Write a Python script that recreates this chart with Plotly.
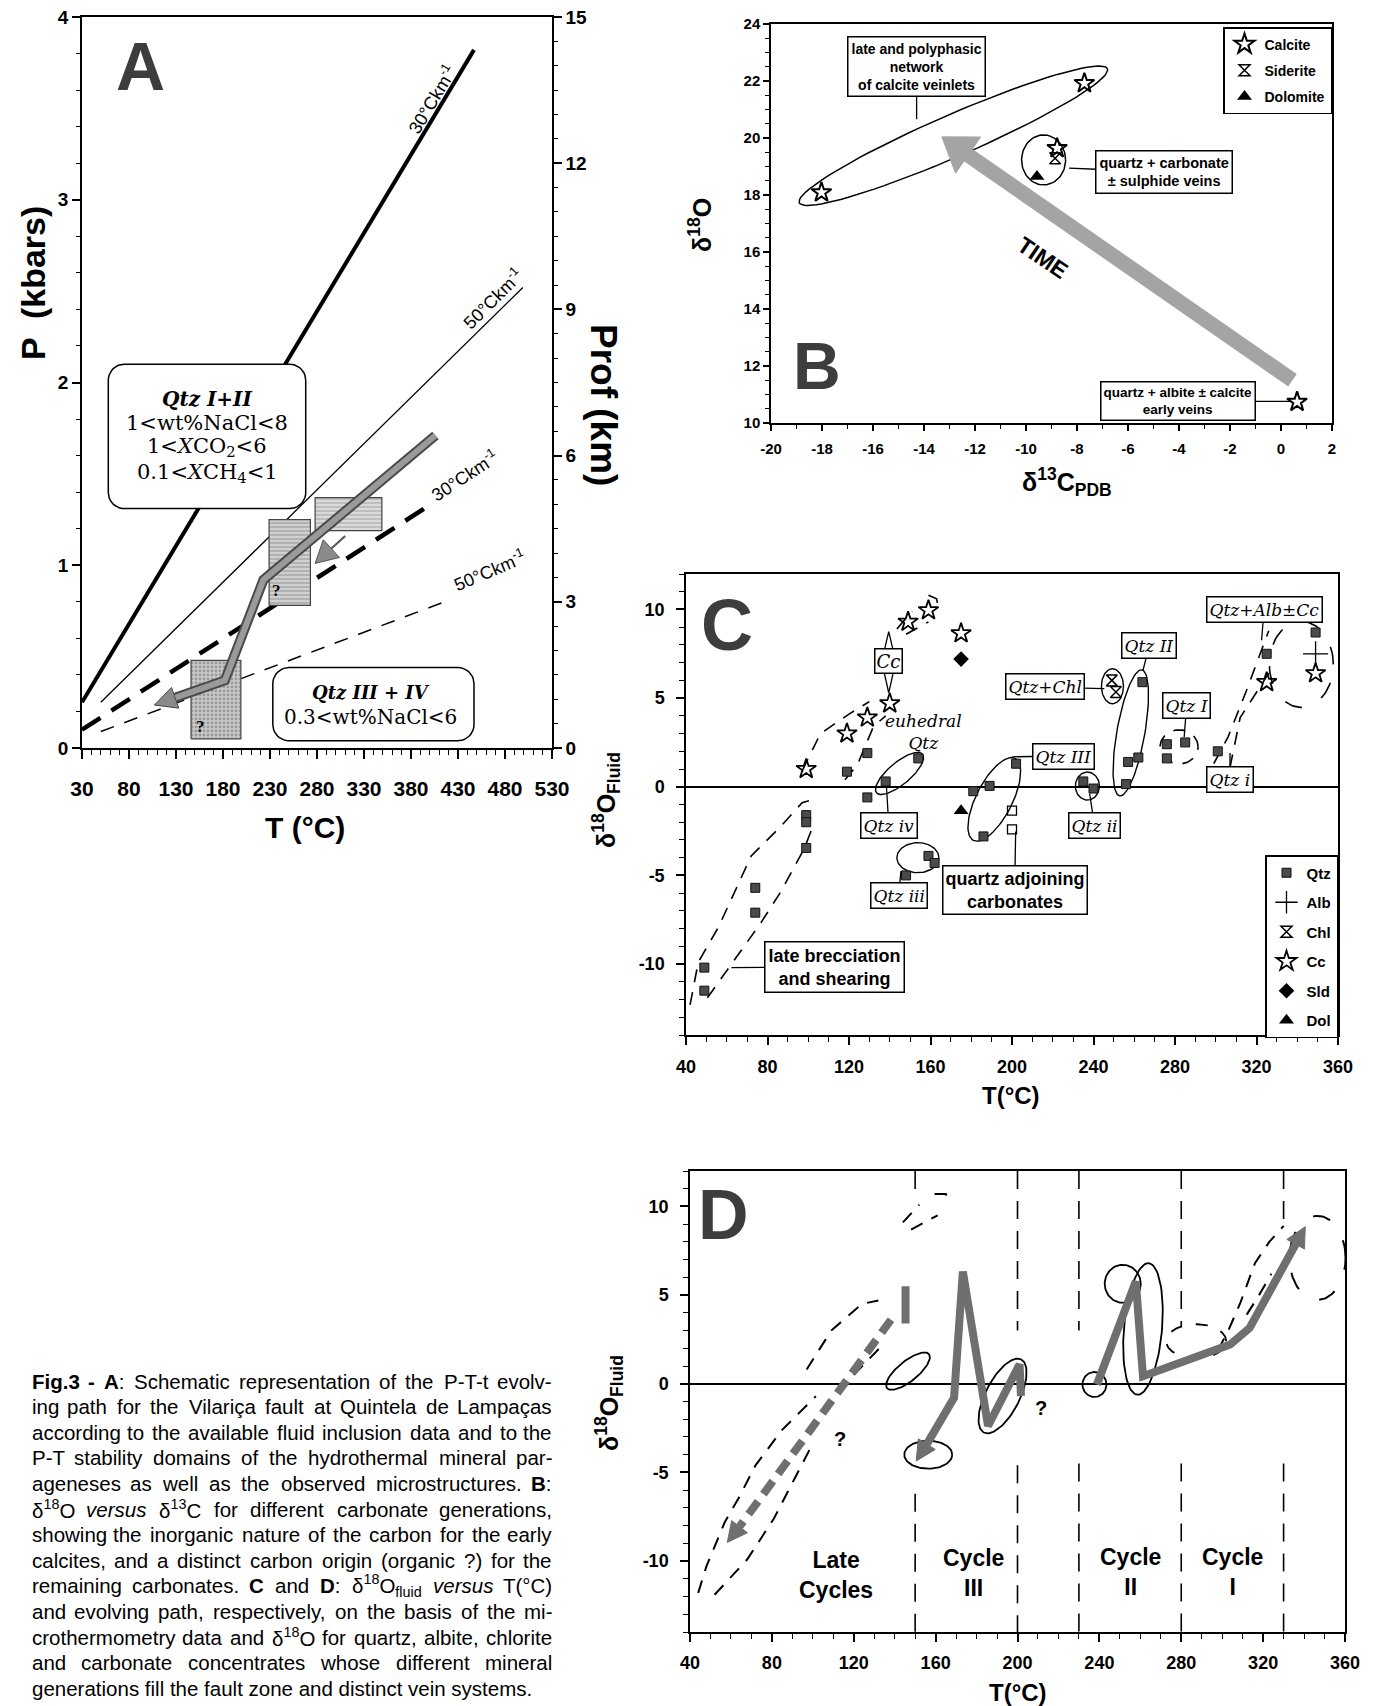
import math
import re
import plotly.graph_objects as go

W, H = 1377, 1706          # browser window
OFF = 8                    # page body margin: the figure starts at (8, 8)
FW, FH = W - OFF, H - OFF  # figure size
SANS = "Liberation Sans"
SERIF = "Liberation Serif"
WSERIF = "DejaVu Serif"

# ======================= DATA =======================
# ---- Panel A : P-T-t path ----
A_T_range = [30, 530]
A_P_range = [0, 4]
A_D_range = [0, 15]
A_xticks = [30, 80, 130, 180, 230, 280, 330, 380, 430, 480, 530]
A_yticks = [0, 1, 2, 3, 4]
A_y2ticks = [0, 3, 6, 9, 12, 15]
geo30_T = [30, 447]
geo30_P = [0.25, 3.82]
geo50_T = [50, 499]
geo50_P = [0.25, 2.52]
geo30d_T = [30, 397]
geo30d_P = [0.10, 1.32]
geo50d_T = [50, 421]
geo50d_P = [0.09, 0.81]
pathA_T = [406, 223, 182, 107]
pathA_P = [1.71, 0.92, 0.37, 0.235]
boxA_T0 = [146, 229, 278]
boxA_T1 = [199, 273, 349]
boxA_P0 = [0.05, 0.78, 1.19]
boxA_P1 = [0.48, 1.25, 1.37]
arrA_T = [310, 278]
arrA_P = [1.16, 1.01]

# ---- Panel B : d18O vs d13C ----
B_xticks = [-20, -18, -16, -14, -12, -10, -8, -6, -4, -2, 0, 2]
B_xticktext = ["-20", "-18", "-16", "-14", "-12", "-10", "-8", "-6", "-4", "-2", "0", "2"]
B_yticks = [10, 12, 14, 16, 18, 20, 22, 24]
calc_C = [-18.02, -7.71, -8.78, 0.63]
calc_O = [18.09, 21.92, 19.64, 10.74]
sid_C = [-8.86]
sid_O = [19.29]
dol_C = [-9.57]
dol_O = [18.65]
time_C = [0.45, -13.3]
time_O = [11.5, 20.04]

# ---- Panel C : d18O fluid vs T ----
CD_xticks = [40, 80, 120, 160, 200, 240, 280, 320, 360]
CD_yticks = [-10, -5, 0, 5, 10]
CD_yticktext = ["-10", "-5", "0", "5", "10"]
qtz_T = [49, 49, 74, 74, 99, 99, 99, 119, 129, 129, 138, 154, 148, 159, 162, 181, 186, 189, 202,
         235, 240, 256, 257, 262, 264, 276, 276, 285, 301, 325, 349]
qtz_v = [-10.2, -11.5, -5.7, -7.1, -1.6, -2.0, -3.45, 0.85, 1.9, -0.6, 0.3, 1.6, -5.0, -3.9, -4.3, -0.25, -2.8, 0.05, 1.3,
         0.3, -0.1, 0.15, 1.4, 1.65, 5.9, 2.4, 1.6, 2.5, 2.0, 7.5, 8.7]
qtzo_T = [200, 200]
qtzo_v = [-1.35, -2.4]
cc_T = [99, 119, 129, 140, 149, 159, 175, 325, 349]
cc_v = [1.0, 3.0, 3.9, 4.7, 9.3, 9.95, 8.65, 5.9, 6.4]
sld_T = [175]
sld_v = [7.2]
dol_T = [175]
dol_v = [-1.35]
alb_T = [349]
alb_v = [7.5]
chl_T = [249, 251]
chl_v = [6.0, 5.35]

# ---- Panel D : evolving path ----
cycle_T = [150, 200, 230, 280, 330]
cycle_top = [[12, 10.4], [12, 3.0], [12, 3.0], [12, 3.2], [12, 9.0]]
cycle_bot = [[-6.2, -14], [-4.6, -14], [-4.5, -14], [-4.5, -14], [-4.5, -14]]
pathD1_T = [238.8, 257.8, 261.3, 287.3, 303.9, 313.4, 340.6]
pathD1_v = [-0.04, 5.77, 0.43, 1.46, 2.21, 3.15, 8.86]
pathD3_T = [201.7, 201.0, 185.6, 173.3, 169.0, 157.2, 150.5]
pathD3_v = [-0.69, 1.09, -2.38, 6.33, -0.79, -3.13, -4.36]
pathDL_T = [138.2, 113.4, 99.6, 83.1, 68.9, 58.2]
pathDL_v = [3.61, -0.32, -2.58, -5.2, -7.36, -8.95]
barDL_T = [145.3, 145.3]
barDL_v = [5.5, 3.4]
cycle_labels = ["Late<br>Cycles", "Cycle<br>III", "Cycle<br>II", "Cycle<br>I"]
cycle_label_T = [111.5, 178.5, 255.4, 305.0]
cycle_label_v = [-10.8, -10.7, -10.6, -10.6]

caption_lines = [
    "<b>Fig.3</b> <b>-</b> <b>A</b>: Schematic representation of the P-T-t evolv-",
    "ing path for the Vilariça fault at Quintela de Lampaças",
    "according to the available fluid inclusion data and to the",
    "P-T stability domains of the hydrothermal mineral par-",
    "ageneses as well as the observed microstructures. <b>B</b>:",
    "δ<sup>18</sup>O <i>versus</i> δ<sup>13</sup>C for different carbonate generations,",
    "showing the inorganic nature of the carbon for the early",
    "calcites, and a distinct carbon origin (organic ?) for the",
    "remaining carbonates. <b>C</b> and <b>D</b>: δ<sup>18</sup>O<sub>fluid</sub> <i>versus</i> T(°C)",
    "and evolving path, respectively, on the basis of the mi-",
    "crothermometry data and δ<sup>18</sup>O for quartz, albite, chlorite",
    "and carbonate concentrates whose different mineral",
    "generations fill the fault zone and distinct vein systems.",
]

# ======================= LAYOUT GEOMETRY (page pixels) =======================
FRAMES = {'A': (82, 552, 17, 748), 'B': (771, 1332, 24, 423),
          'C': (686, 1338, 574, 1035), 'D': (690, 1345, 1171, 1632)}
RANGES = {'A': (A_T_range, A_P_range), 'B': ([-20, 2], [10, 24]),
          'C': ([40, 360], [-14, 12]), 'D': ([40, 360], [-14, 12])}
AX = {'A': ('x', 'y'), 'A2': ('x', 'y2'), 'B': ('x2', 'y3'), 'C': ('x3', 'y4'), 'D': ('x4', 'y5')}


def px2paper_x(x):
    return (x - OFF) / FW


def px2paper_y(y):
    return 1 - (y - OFF) / FH


def scale(p):
    L, R, T, B = FRAMES[p]
    xr, yr = RANGES[p]
    return (R - L) / (xr[1] - xr[0]), (B - T) / (yr[1] - yr[0])


def dom(p):
    L, R, T, B = FRAMES[p]
    return [px2paper_x(L), px2paper_x(R)], [px2paper_y(B), px2paper_y(T)]


fig = go.Figure()
annotations = []


def add(p, x, y, **kw):
    xa, ya = AX[p]
    kw.setdefault('showlegend', False)
    kw.setdefault('hoverinfo', 'skip')
    fig.add_trace(go.Scatter(x=list(x), y=list(y), xaxis=xa, yaxis=ya, **kw))


def ann(p, x, y, text, size=14, family=SANS, color='black', **kw):
    xa, ya = AX[p]
    d = dict(x=x, y=y, xref=xa, yref=ya, text=text, showarrow=False, xanchor='center', yanchor='middle',
             font=dict(family=family, size=size, color=color))
    d.update(kw)
    annotations.append(d)


def callout(p, tipx, tipy, boxx, boxy, text, size=16, family=WSERIF, pad=2):
    xa, ya = AX[p]
    annotations.append(dict(x=tipx, y=tipy, xref=xa, yref=ya, ax=boxx, ay=boxy, axref=xa, ayref=ya,
                            text=text, showarrow=True, arrowhead=0, arrowwidth=1.3, arrowcolor='black',
                            bordercolor='black', borderwidth=1.5, bgcolor='white', borderpad=pad,
                            font=dict(family=family, size=size, color='black')))


def annp(xpx, ypx, text, size, angle=0, family=SANS, **kw):
    d = dict(x=px2paper_x(xpx), y=px2paper_y(ypx), xref='paper', yref='paper', text=text, showarrow=False,
             xanchor='center', yanchor='middle',
             textangle=angle, font=dict(family=family, size=size, color='black'))
    d.update(kw)
    annotations.append(d)


def ellipse(p, cx, cy, a, b, ang, t0=0.0, t1=360.0, n=90):
    sx, sy = scale(p)
    th = math.radians(ang)
    xs, ys = [], []
    for i in range(n + 1):
        t = math.radians(t0 + (t1 - t0) * i / n)
        px = a * math.cos(t) * math.cos(th) - b * math.sin(t) * math.sin(th)
        py = a * math.cos(t) * math.sin(th) + b * math.sin(t) * math.cos(th)
        xs.append(cx + px / sx)
        ys.append(cy + py / sy)
    return xs, ys


def arrow_path(p, xs, ys, hl, hw):
    """split a polyline into (shaft points, head triangle); last point is the tip"""
    sx, sy = scale(p)
    x0, y0, xt, yt = xs[-2], ys[-2], xs[-1], ys[-1]
    dx, dy = (xt - x0) * sx, (yt - y0) * sy
    L = math.hypot(dx, dy)
    ux, uy = dx / L, dy / L
    bx, by = xt - hl * ux / sx, yt - hl * uy / sy
    px, py = -uy, ux
    hx = [bx + hw * px / sx, xt, bx - hw * px / sx, bx + hw * px / sx]
    hy = [by + hw * py / sy, yt, by - hw * py / sy, by + hw * py / sy]
    return list(xs[:-1]) + [bx], list(ys[:-1]) + [by], hx, hy


def rrect(p, x0, x1, y0, y1, r):
    sx, sy = scale(p)
    xs, ys = [], []
    corners = [(x1, y1, 0), (x0, y1, 90), (x0, y0, 180), (x1, y0, 270)]
    for cx, cy, start in corners:
        ccx = cx - math.copysign(r / sx, math.cos(math.radians(start + 45)))
        ccy = cy - math.copysign(r / sy, math.sin(math.radians(start + 45)))
        for k in range(11):
            t = math.radians(start + 9 * k)
            xs.append(ccx + r * math.cos(t) / sx)
            ys.append(ccy + r * math.sin(t) / sy)
    xs.append(xs[0]); ys.append(ys[0])
    return xs, ys


# ======================= PANEL A =======================
add('A', geo30_T, geo30_P, mode='lines', line=dict(color='black', width=4))
add('A', geo50_T, geo50_P, mode='lines', line=dict(color='black', width=1.3))
add('A', geo30d_T, geo30d_P, mode='lines', line=dict(color='black', width=4.5, dash='22px,13px'))
add('A', geo50d_T, geo50d_P, mode='lines', line=dict(color='black', width=1.5, dash='14px,11px'))
add('A2', [A_T_range[0]], [A_D_range[0]], mode='markers', marker=dict(opacity=0))

box_styles = [dict(shape='.', fgcolor='#6a6a6a', bgcolor='#c9c9c9', size=4, solidity=0.4),
              dict(shape='-', fgcolor='#7a7a7a', bgcolor='#cfcfcf', size=4, solidity=0.35),
              dict(shape='-', fgcolor='#7a7a7a', bgcolor='#dadada', size=4, solidity=0.3)]
for i in range(3):
    add('A', [boxA_T0[i], boxA_T1[i], boxA_T1[i], boxA_T0[i], boxA_T0[i]],
        [boxA_P0[i], boxA_P0[i], boxA_P1[i], boxA_P1[i], boxA_P0[i]],
        mode='lines', fill='toself', fillpattern=box_styles[i], line=dict(color='#444', width=1.2))

bx, by = rrect('A', 58, 268, 1.31, 2.10, 16)
add('A', bx, by, mode='lines', fill='toself', fillcolor='white', line=dict(color='black', width=1.5))
bx, by = rrect('A', 233, 447, 0.04, 0.44, 16)
add('A', bx, by, mode='lines', fill='toself', fillcolor='white', line=dict(color='black', width=1.5))

sxs, sys_, hx, hy = arrow_path('A', pathA_T, pathA_P, 22, 11)
add('A', sxs, sys_, mode='lines', line=dict(color='#4a4a4a', width=10))
add('A', sxs, sys_, mode='lines', line=dict(color='#9a9a9a', width=6))
add('A', hx, hy, mode='lines', fill='toself', fillcolor='#8a8a8a', line=dict(color='#4a4a4a', width=1))
sxs, sys_, hx, hy = arrow_path('A', arrA_T, arrA_P, 22, 12)
add('A', sxs, sys_, mode='lines', line=dict(color='#555', width=2))
add('A', hx, hy, mode='lines', fill='toself', fillcolor='#8a8a8a', line=dict(color='#555', width=1))

ann('A', 92, 3.73, '<b>A</b>', size=68, color='#3d3d3d')
ann('A', 156, 0.12, '<b>?</b>', size=17, family=SERIF)
ann('A', 237, 0.86, '<b>?</b>', size=17, family=SERIF)
qtz12 = ["<b><i>Qtz I+II</i></b>", "1&lt;wt%NaCl&lt;8", "1&lt;<i>X</i>CO<sub>2</sub>&lt;6",
         "0.1&lt;<i>X</i>CH<sub>4</sub>&lt;1"]
for txt, P, s in zip(qtz12, [1.91, 1.776, 1.649, 1.503], [20, 21, 21, 21]):
    ann('A', 163, P, txt, size=s, family=WSERIF)
ann('A', 337, 0.305, "<b><i>Qtz III + IV</i></b>", size=18, family=WSERIF)
ann('A', 337, 0.17, "0.3&lt;wt%NaCl&lt;6", size=20, family=WSERIF)
ann('A', 402, 3.55, "30°Ckm<sup>-1</sup>", size=18, textangle=-59)
ann('A', 467, 2.46, "50°Ckm<sup>-1</sup>", size=18, textangle=-45)
ann('A', 437, 1.49, "30°Ckm<sup>-1</sup>", size=18, textangle=-33)
ann('A', 463, 0.97, "50°Ckm<sup>-1</sup>", size=18, textangle=-23)

annp(33, 283, "<b>P  (kbars)</b>", 34, angle=-90)
annp(604, 405, "<b>Prof (km)</b>", 37, angle=90)
annp(305, 827, "<b>T (°C)</b>", 30)

# ======================= PANEL B =======================
ex, ey = ellipse('B', -12.85, 20.08, 168, 21, 23.5)
add('B', ex, ey, mode='lines', line=dict(color='black', width=1.5))
ex, ey = ellipse('B', -9.31, 19.23, 22, 25, 0)
add('B', ex, ey, mode='lines', line=dict(color='black', width=1.5))
sxs, sys_, hx, hy = arrow_path('B', time_C, time_O, 32, 22)
add('B', sxs, sys_, mode='lines', line=dict(color='#a4a4a4', width=15))
add('B', hx, hy, mode='lines', fill='toself', fillcolor='#a4a4a4', line=dict(color='#a4a4a4', width=1))
add('B', calc_C, calc_O, mode='markers', name='Calcite', showlegend=True, legend='legend', legendgroup='b1',
    marker=dict(symbol='star-open', size=15, color='black', line=dict(width=2, color='black')))
add('B', sid_C, sid_O, mode='markers', name='Siderite', showlegend=True, legend='legend', legendgroup='b2',
    marker=dict(symbol='hourglass-open', size=11, color='black', line=dict(width=1.5, color='black')))
add('B', dol_C, dol_O, mode='markers', name='Dolomite', showlegend=True, legend='legend', legendgroup='b3',
    marker=dict(symbol='triangle-up', size=13, color='black'))
ann('B', -9.34, 15.78, '<b>TIME</b>', size=23, textangle=34)
ann('B', -18.2, 11.99, '<b>B</b>', size=66, color='#3d3d3d')
callout('B', -14.29, 20.66, -14.29, 22.5, '<b>late and polyphasic<br>network<br>of calcite veinlets</b>',
        size=14, family=SANS, pad=3)
callout('B', -8.31, 18.94, -4.58, 18.81, '<b>quartz + carbonate<br>± sulphide veins</b>', size=14.5, family=SANS, pad=3)
callout('B', 0.37, 10.76, -4.02, 10.76, '<b>quartz + albite ± calcite<br>early veins</b>', size=13.5, family=SANS, pad=2)
annp(700, 225, "<b>δ<sup>18</sup>O</b>", 25, angle=-90)
annp(1067, 482, "<b>δ<sup>13</sup>C<sub>PDB</sub></b>", 25)

# ======================= PANEL C =======================
dashC = dict(color='black', width=1.6, dash='13px,10px')
C_envL_T = [42, 46, 56, 62, 72, 86, 97, 103]
C_envL_v = [-12.3, -9.9, -7.9, -6.4, -3.9, -2.3, -0.9, -0.7]
C_envR_T = [50.5, 76.6, 86.1, 98, 102.7]
C_envR_v = [-11.9, -7.7, -6.0, -3.5, -2.1]
C_envU1_T = [97, 106, 120, 130]
C_envU1_v = [0.9, 3.0, 4.1, 4.8]
C_envU2_T = [118, 124, 132, 138]
C_envU2_v = [0.4, 1.2, 3.4, 4.0]
C_top1_T = [143.5, 151]
C_top1_v = [8.9, 9.9]
C_top2_T = [148, 159]
C_top2_v = [8.6, 9.3]
C_top3_T = [159, 163, 164]
C_top3_v = [10.8, 10.6, 10.0]
C_envRR1_T = [299, 306, 315, 326]
C_envRR1_v = [1.3, 2.8, 5.4, 8.8]
C_envRR2_T = [307, 312, 326]
C_envRR2_v = [1.1, 3.9, 6.4]
for xs, ys in [(C_envL_T, C_envL_v), (C_envR_T, C_envR_v), (C_envU1_T, C_envU1_v), (C_envU2_T, C_envU2_v),
               (C_top1_T, C_top1_v), (C_top2_T, C_top2_v), (C_top3_T, C_top3_v),
               (C_envRR1_T, C_envRR1_v), (C_envRR2_T, C_envRR2_v)]:
    add('C', xs, ys, mode='lines', line=dashC)
ex, ey = ellipse('C', 342, 6.9, 32, 43, 0)
add('C', ex, ey, mode='lines', line=dict(color='black', width=1.6, dash='18px,22px'))
ex, ey = ellipse('C', 282, 2.25, 19, 17, 0)
add('C', ex, ey, mode='lines', line=dict(color='black', width=1.6, dash='12px,10px'))
C_ells = [(144.8, 0.75, 30, 11, 40), (191.3, -0.71, 46, 18, 63), (237, 0.04, 12, 14, 0),
          (258.3, 3.04, 64, 14, 80), (249.3, 5.67, 11, 17.5, 0), (153.8, -4.0, 21, 15, 0)]
for cx, cy, a, b, g in C_ells:
    ex, ey = ellipse('C', cx, cy, a, b, g)
    add('C', ex, ey, mode='lines', line=dict(color='black', width=1.4))

add('C', qtz_T, qtz_v, mode='markers', name='Qtz', showlegend=True, legend='legend2', legendgroup='c1',
    marker=dict(symbol='square', size=9, color='#4a4a4a', line=dict(color='#111', width=1)))
add('C', alb_T, alb_v, mode='markers', name='Alb', showlegend=True, legend='legend2', legendgroup='c2',
    marker=dict(symbol='cross-thin-open', size=18, color='black', line=dict(color='black', width=1.3)))
add('C', chl_T, chl_v, mode='markers', name='Chl', showlegend=True, legend='legend2', legendgroup='c3',
    marker=dict(symbol='hourglass-open', size=11, color='black', line=dict(color='black', width=1.5)))
add('C', cc_T, cc_v, mode='markers', name='Cc', showlegend=True, legend='legend2', legendgroup='c4',
    marker=dict(symbol='star-open', size=15, color='black', line=dict(color='black', width=1.8)))
add('C', sld_T, sld_v, mode='markers', name='Sld', showlegend=True, legend='legend2', legendgroup='c5',
    marker=dict(symbol='diamond', size=12, color='black'))
add('C', dol_T, dol_v, mode='markers', name='Dol', showlegend=True, legend='legend2', legendgroup='c6',
    marker=dict(symbol='triangle-up', size=13, color='black'))
add('C', qtzo_T, qtzo_v, mode='markers',
    marker=dict(symbol='square-open', size=9, color='black', line=dict(width=1.3)))

sxC, syC = scale('C')
add('C', [139.5, 139.5 + 7 / sxC, 139.5, 139.5 - 7 / sxC, 139.5], [8.75, 7.07, 5.3, 7.07, 8.75],
    mode='lines', fill='toself', fillcolor='white', line=dict(color='black', width=1.3))
ann('C', 139.5, 7.07, '<i>Cc</i>', size=18, family=WSERIF, bordercolor='black', borderwidth=1.5,
    bgcolor='white', borderpad=1)
ann('C', 156.4, 3.1, '<i>euhedral<br>Qtz</i>', size=17, family=WSERIF)
ann('C', 60, 9.1, '<b>C</b>', size=72, color='#3d3d3d')
C_callouts = [("<i>Qtz iv</i>", 138.4, 0.0, 139.5, -2.16),
              ("<i>Qtz III</i>", 200.1, 1.69, 225.1, 1.73),
              ("<i>Qtz ii</i>", 238.1, -0.38, 240.5, -2.21),
              ("<i>Qtz+Chl</i>", 245.3, 5.53, 216, 5.63),
              ("<i>Qtz II</i>", 264.3, 6.57, 267.4, 7.97),
              ("<i>Qtz I</i>", 284.5, 2.81, 285.7, 4.56),
              ("<i>Qtz i</i>", 307, 1.91, 307, 0.43),
              ("<i>Qtz+Alb±Cc</i>", 322.5, 8.26, 323.7, 9.98),
              ("<i>Qtz iii</i>", 145.5, -4.76, 144.3, -6.16)]
for txt, tx, ty, bxx, byy in C_callouts:
    callout('C', tx, ty, bxx, byy, txt, size=17, family=WSERIF, pad=2)
callout('C', 201.8, -2.53, 201.3, -5.82, '<b>quartz adjoining<br>carbonates</b>', size=18, family=SANS, pad=2)
callout('C', 62.3, -10.2, 112.7, -10.15, '<b>late brecciation<br>and shearing</b>', size=18, family=SANS, pad=3)
annp(1011, 1095, "<b>T(°C)</b>", 24)
annp(606, 800, "<b>δ<sup>18</sup>O<sub>Fluid</sub></b>", 25, angle=-90)

# ======================= PANEL D =======================
for i, T in enumerate(cycle_T):
    for seg in (cycle_top[i], cycle_bot[i]):
        add('D', [T, T], seg, mode='lines', line=dict(color='black', width=1.6, dash='18px,12px'))

D_envL_T = [44, 48, 57, 64, 72, 85, 101.5]
D_envL_v = [-11.8, -10.3, -7.8, -6.4, -4.6, -2.6, -0.7]
D_envR_T = [52, 68, 81, 89, 98.5]
D_envR_v = [-11.9, -9.9, -7.6, -5.8, -3.7]
D_envU1_T = [97, 109, 124, 132]
D_envU1_v = [0.8, 3.0, 4.5, 4.7]
D_envU2_T = [120, 129, 135]
D_envU2_v = [0.5, 1.6, 2.3]
D_top1_T = [144, 152]
D_top1_v = [9.1, 10.1]
D_top2_T = [148, 161]
D_top2_v = [8.7, 9.5]
D_top3_T = [159.5, 165, 166.6]
D_top3_v = [10.7, 10.7, 10.2]
D_envRR1_T = [298, 303, 309, 316, 323, 330]
D_envRR1_v = [1.9, 3.0, 4.6, 6.8, 8.0, 8.9]
D_envRR2_T = [312, 318, 324]
D_envRR2_v = [3.9, 5.0, 6.2]
for xs, ys in [(D_envL_T, D_envL_v), (D_envR_T, D_envR_v), (D_envU1_T, D_envU1_v), (D_envU2_T, D_envU2_v),
               (D_top1_T, D_top1_v), (D_top2_T, D_top2_v), (D_top3_T, D_top3_v),
               (D_envRR1_T, D_envRR1_v), (D_envRR2_T, D_envRR2_v)]:
    add('D', xs, ys, mode='lines', line=dict(color='black', width=2, dash='13px,10px'))
ex, ey = ellipse('D', 346.6, 7.1, 28, 42, 0)
add('D', ex, ey, mode='lines', line=dict(color='black', width=2, dash='18px,24px'))
ex, ey = ellipse('D', 287.3, 2.4, 30, 17, 0)
add('D', ex, ey, mode='lines', line=dict(color='black', width=1.8, dash='12px,14px'))
D_ells = [(192.7, -0.69, 41, 17, 63), (237.6, -0.04, 12, 12.5, 0), (251.4, 5.64, 18, 19, 0),
          (261.3, 3.09, 66, 19, 85), (156.4, -4.0, 24, 14, 0), (146.5, 0.71, 27, 10, 39)]
for cx, cy, a, b, g in D_ells:
    ex, ey = ellipse('D', cx, cy, a, b, g)
    add('D', ex, ey, mode='lines', line=dict(color='black', width=1.8))

for xs, ys, dash in [(pathD1_T, pathD1_v, None), (pathD3_T, pathD3_v, None), (pathDL_T, pathDL_v, '16px,9px')]:
    sxs, sys_, hx, hy = arrow_path('D', xs, ys, 20, 10)
    ln = dict(color='#6f6f6f', width=8)
    if dash:
        ln['dash'] = dash
    add('D', sxs, sys_, mode='lines', line=ln)
    add('D', hx, hy, mode='lines', fill='toself', fillcolor='#6f6f6f', line=dict(color='#6f6f6f', width=1))
add('D', barDL_T, barDL_v, mode='lines', line=dict(color='#6f6f6f', width=8))

for txt, T, v in zip(cycle_labels, cycle_label_T, cycle_label_v):
    ann('D', T, v, '<b>' + txt + '</b>', size=23)
ann('D', 211.6, -1.35, '<b>?</b>', size=20)
ann('D', 113.4, -3.13, '<b>?</b>', size=20)
ann('D', 56.6, 9.5, '<b>D</b>', size=70, color='#3d3d3d')
annp(1018, 1692, "<b>T(°C)</b>", 24)
annp(609, 1403, "<b>δ<sup>18</sup>O<sub>Fluid</sub></b>", 25, angle=-90)

# ======================= CAPTION (justified) =======================
ARIAL = {' ': 278, '!': 278, '"': 355, '#': 556, '$': 556, '%': 889, '&': 667, "'": 191, '(': 333, ')': 333,
         '*': 389, '+': 584, ',': 278, '-': 333, '.': 278, '/': 278, ':': 278, ';': 278, '<': 584, '=': 584,
         '>': 584, '?': 556, '@': 1015, 'A': 667, 'B': 667, 'C': 722, 'D': 722, 'E': 667, 'F': 611, 'G': 778,
         'H': 722, 'I': 278, 'J': 500, 'K': 667, 'L': 556, 'M': 833, 'N': 722, 'O': 778, 'P': 667, 'Q': 778,
         'R': 722, 'S': 667, 'T': 611, 'U': 722, 'V': 667, 'W': 944, 'X': 667, 'Y': 667, 'Z': 611,
         'a': 556, 'b': 556, 'c': 500, 'd': 556, 'e': 556, 'f': 278, 'g': 556, 'h': 556, 'i': 222, 'j': 222,
         'k': 500, 'l': 222, 'm': 833, 'n': 556, 'o': 556, 'p': 556, 'q': 556, 'r': 333, 's': 500, 't': 278,
         'u': 556, 'v': 500, 'w': 722, 'x': 500, 'y': 500, 'z': 500, 'ç': 500, 'δ': 556, '°': 400}
for d in '0123456789':
    ARIAL[d] = 556
ARIAL_B = {'F': 611, 'i': 278, 'g': 611, '.': 278, '3': 556, '-': 333, 'A': 722, 'B': 722, 'C': 722, 'D': 722}


def text_width(word, size):
    w, bold, small = 0.0, False, False
    for tok in re.split(r'(<[^>]+>)', word):
        if not tok:
            continue
        if tok.startswith('<'):
            t = tok.lower()
            if t == '<b>':
                bold = True
            elif t == '</b>':
                bold = False
            elif t in ('<sup>', '<sub>'):
                small = True
            elif t in ('</sup>', '</sub>'):
                small = False
            continue
        for ch in tok:
            cw = ARIAL_B[ch] if (bold and ch in ARIAL_B) else ARIAL.get(ch, 556)
            w += cw / 1000.0 * size * (0.7 if small else 1.0)
    return w


CAP_L, CAP_R, CAP_TOP, CAP_DY, CAP_FS = 30.5, 553, 1381, 25.6, 20.5
APAD = 1  # plotly annotation inner padding
for i, line in enumerate(caption_lines):
    ypx = CAP_TOP + CAP_DY * i
    if i == len(caption_lines) - 1:
        annp(CAP_L - APAD, ypx, line, CAP_FS, xanchor='left', yanchor='middle')
        continue
    words = line.split()
    widths = [text_width(wd, CAP_FS) for wd in words]
    gap = (CAP_R - CAP_L - sum(widths)) / (len(words) - 1)
    xcur = CAP_L
    for j, wd in enumerate(words):
        if j == 0:
            annp(CAP_L - APAD, ypx, wd, CAP_FS, xanchor='left', yanchor='middle')
        elif j == len(words) - 1:
            annp(CAP_R + APAD, ypx, wd, CAP_FS, xanchor='right', yanchor='middle')
        else:
            annp(xcur + widths[j] / 2, ypx, wd, CAP_FS, xanchor='center', yanchor='middle')
        xcur += widths[j] + gap

# ======================= AXES =======================
def tf(s):
    return dict(family=SANS, size=s, color='black', weight='bold')


def minor(vals, ln=4):
    return dict(tickmode='array', tickvals=vals, ticks='outside', ticklen=ln, tickwidth=1, tickcolor='black')


base = dict(showgrid=False, zeroline=False, showline=True, linecolor='black', linewidth=1.5, automargin=False,
            ticks='outside', tickcolor='black', tickwidth=1.5, ticklen=8, fixedrange=True, tickmode='array',
            ticklabeloverflow='allow')

dAx, dAy = dom('A')
dBx, dBy = dom('B')
dCx, dCy = dom('C')
dDx, dDy = dom('D')

fig.update_layout(
    width=FW, height=FH, margin=dict(l=0, r=0, t=0, b=0, pad=0, autoexpand=False), autosize=False,
    paper_bgcolor='white', plot_bgcolor='white',
    xaxis=dict(base, domain=dAx, range=A_T_range, anchor='y', tickvals=A_xticks, mirror=True,
               tickfont=tf(21), ticklen=9, ticklabelstandoff=12,
               minor=minor([30 + 10 * k for k in range(51)], 5)),
    yaxis=dict(base, domain=dAy, range=A_P_range, anchor='x', tickvals=A_yticks,
               tickfont=tf(19), minor=minor([0.2 * k for k in range(21)], 4)),
    yaxis2=dict(base, overlaying='y', side='right', anchor='x', range=A_D_range, tickvals=A_y2ticks,
                tickfont=tf(19), minor=minor([0.5 * k for k in range(31)], 4)),
    xaxis2=dict(base, domain=dBx, range=[-20, 2], anchor='y3', tickvals=B_xticks, ticktext=B_xticktext,
                mirror=True, tickfont=tf(15), ticklen=6, ticklabelstandoff=5,
                minor=minor(list(range(-20, 3)), 4)),
    yaxis3=dict(base, domain=dBy, range=[10, 24], anchor='x2', tickvals=B_yticks, mirror=True,
                tickfont=tf(15), ticklen=6, minor=minor([10 + 0.5 * k for k in range(29)], 4)),
    xaxis3=dict(base, domain=dCx, range=[40, 360], anchor='y4', tickvals=CD_xticks, mirror=True,
                tickfont=tf(18), ticklabelstandoff=7, minor=minor(list(range(40, 361, 10)), 5)),
    yaxis4=dict(base, domain=dCy, range=[-14, 12], anchor='x3', tickvals=CD_yticks, ticktext=CD_yticktext,
                mirror=True, tickfont=tf(18), zeroline=True, zerolinecolor='black', zerolinewidth=2,
                ticklabelstandoff=8, minor=minor(list(range(-14, 13)), 5)),
    xaxis4=dict(base, domain=dDx, range=[40, 360], anchor='y5', tickvals=CD_xticks, mirror=True,
                tickfont=tf(18), ticklabelstandoff=6, minor=minor(list(range(40, 361, 10)), 5)),
    yaxis5=dict(base, domain=dDy, range=[-14, 12], anchor='x4', tickvals=CD_yticks, ticktext=CD_yticktext,
                mirror=True, tickfont=tf(18), zeroline=True, zerolinecolor='black', zerolinewidth=2,
                ticklabelstandoff=8, minor=minor(list(range(-14, 13)), 5)),
    legend=dict(x=px2paper_x(1332), y=px2paper_y(27), xanchor='right', yanchor='top', bordercolor='black',
                borderwidth=1.5, bgcolor='white', font=dict(family=SANS, size=14, color='black', weight='bold'),
                tracegroupgap=5, itemwidth=30),
    legend2=dict(x=px2paper_x(1338), y=px2paper_y(855), xanchor='right', yanchor='top', bordercolor='black',
                 borderwidth=1.5, bgcolor='white', font=dict(family=SANS, size=15, color='black', weight='bold'),
                 tracegroupgap=7, itemwidth=30),
    annotations=annotations,
    showlegend=True,
)

fig.write_html("out.html")
